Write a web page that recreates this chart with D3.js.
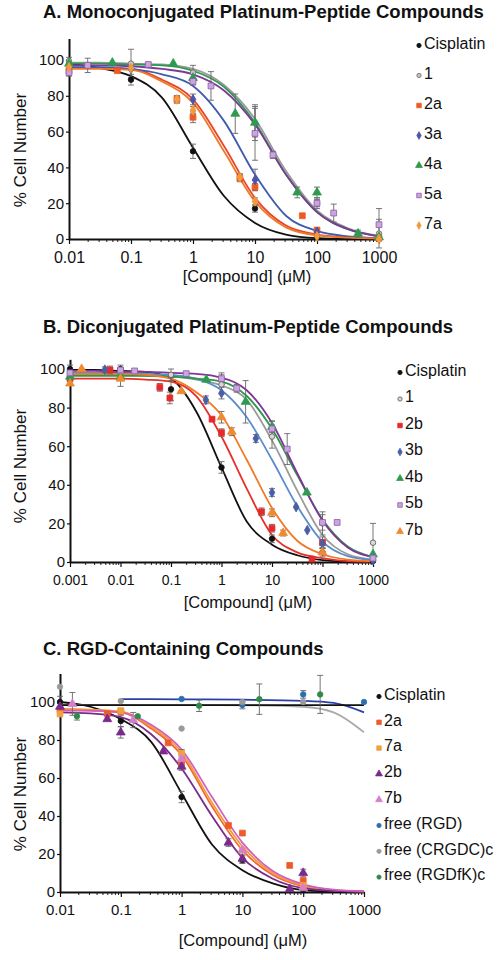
<!DOCTYPE html>
<html><head><meta charset="utf-8">
<script src="https://cdn.jsdelivr.net/npm/d3@7"></script>
<style>body{margin:0;background:#fff} text{font-family:Arial,"Liberation Sans",sans-serif;fill:#111}</style>
</head><body><svg id="c" width="501" height="960"></svg>
<script>
// ================= Panel A data =================
const majorsA = [0.01, 0.1, 1, 10, 100, 1000];
const tickLabelsA = ["0.01", "0.1", "1", "10", "100", "1000"];
const yTicks = [0, 20, 40, 60, 80, 100];
const concFitA = [0.01, 0.0316, 0.1, 0.316, 1, 3.16, 10, 31.6, 100, 316, 1000];
const fitA_cis = [98, 95.5, 91, 79, 51, 24, 9, 2.5, 0.5, 0.1, 0];
const fitA_1   = [98.5, 98.5, 98, 97.5, 95, 86, 67, 38, 16, 6, 1.8];
const fitA_2a  = [95.5, 95.5, 95, 89, 78, 52, 23, 7.5, 2.5, 1, 0.5];
const fitA_3a  = [96, 96, 95, 92, 85.5, 66, 36, 13, 4.5, 1.5, 0.5];
const fitA_4a  = [98, 98, 97.5, 97, 94, 85, 65, 36, 15, 5.5, 1.5];
const fitA_5a  = [97, 97, 96.5, 95, 92, 83, 64, 36, 15, 5.5, 1.5];
const fitA_7a  = [95, 95, 94.5, 88, 76, 49, 21, 6.5, 2, 0.8, 0.3];
const ptA_cis_x = [0.01, 0.1, 1, 10, 100, 1000], ptA_cis_y = [97, 89, 49, 17, 1, 0], ptA_cis_e = [2, 3, 4, 2, 1, 0.5];
const ptA_1_x = [0.01, 0.1, 1, 10, 100, 1000], ptA_1_y = [99.5, 98, 93, 65, 20, 3], ptA_1_e = [2, 8, 4, 10, 3, 8];
const ptA_2a_x = [0.01, 0.06, 0.55, 1, 5.7, 10, 58, 100, 1000], ptA_2a_y = [94, 94, 78, 68, 34, 29, 13, 5, 0.5], ptA_2a_e = [1.5, 1, 2, 3, 2, 2, 1, 1, 0.5];
const ptA_3a_x = [0.01, 0.1, 1, 10, 100, 1000], ptA_3a_y = [96, 95, 78, 33, 4, 0.5], ptA_3a_e = [1, 1, 3, 6, 1, 0.5];
const ptA_4a_x = [0.01, 0.05, 0.48, 1, 4.8, 10, 48, 100, 460, 1000], ptA_4a_y = [98, 98.5, 98, 90, 70, 65, 26, 26, 3, 1], ptA_4a_e = [1, 1, 1, 3, 11, 8, 3, 3, 2, 1];
const ptA_5a_x = [0.01, 0.02, 0.19, 1, 1.95, 10, 19.5, 100, 186, 1000], ptA_5a_y = [93, 97, 97.5, 88, 85.5, 59, 47, 20, 14.5, 8], ptA_5a_e = [2, 4, 1, 2, 8, 15, 2, 2, 5, 9];
const ptA_7a_x = [0.01, 0.1, 0.55, 1, 5.7, 10, 100, 1000], ptA_7a_y = [96, 95.5, 78, 72, 34.5, 21, 1.5, 0], ptA_7a_e = [1, 1, 2, 2, 2, 2, 0.5, 0.5];

// ================= Panel B data =================
const majorsB = [0.001, 0.01, 0.1, 1, 10, 100, 1000];
const tickLabelsB = ["0.001", "0.01", "0.1", "1", "10", "100", "1000"];
const concFitB = [0.001, 0.00316, 0.01, 0.0316, 0.1, 0.316, 1, 3.16, 10, 31.6, 100, 316, 1000];
const fitB_cis = [99.5, 99.5, 99, 98.5, 95, 78, 49, 21, 9, 3.5, 1, 0.3, 0];
const fitB_1   = [97, 97, 97, 96.5, 96, 94.5, 91.5, 84, 63, 37, 14, 4, 1.2];
const fitB_2b  = [95, 95, 95, 94.5, 93.5, 86, 65, 38, 14, 5, 2, 0.5, 0.2];
const fitB_3b  = [98, 98, 98, 97.5, 97, 95, 89, 75, 53, 29, 10.5, 3, 1];
const fitB_4b  = [96.5, 96.5, 96.5, 96.5, 96, 95, 93.5, 86, 69, 45, 22, 8, 2.5];
const fitB_5b  = [99, 99, 98.5, 98.5, 98, 97.5, 95.5, 89, 72, 46, 21.5, 7.5, 2.5];
const fitB_7b  = [97.5, 97.5, 97.5, 97, 95, 88, 76, 53, 28, 11, 4, 1.2, 0.4];
const ptB_cis_x = [0.001, 0.01, 0.1, 1, 10, 100, 1000], ptB_cis_y = [100, 100, 89.5, 49, 12, 5, 0.5], ptB_cis_e = [2, 2, 6, 3, 2, 2, 0.5];
const ptB_1_x = [0.001, 0.01, 0.1, 1, 10, 100, 1000], ptB_1_y = [97, 98, 97, 92, 65, 20, 10], ptB_1_e = [1, 2, 3, 5, 6, 6, 10];
const ptB_2b_x = [0.001, 0.0062, 0.06, 0.095, 0.65, 1, 6.2, 10, 62, 100], ptB_2b_y = [95, 99.5, 90.5, 85, 74, 67, 26, 17.5, 1.5, 10], ptB_2b_e = [1, 2, 2, 3, 1, 2, 2, 2, 1, 3];
const ptB_3b_x = [0.001, 0.0049, 0.49, 1, 4.8, 10, 30, 50, 100, 1000], ptB_3b_y = [95, 99.6, 84, 87.5, 64, 36, 28.5, 16.5, 9.5, 1], ptB_3b_e = [1, 1.5, 2, 3, 2, 2, 1, 1, 2, 0.5];
const ptB_4b_x = [0.001, 0.01, 0.5, 3, 10, 49, 1000], ptB_4b_y = [96, 96, 94.5, 83, 70, 36, 4], ptB_4b_e = [1, 1, 1, 11, 3, 1, 1];
const ptB_5b_x = [0.001, 0.01, 0.019, 0.2, 1, 2, 10, 20, 100, 195, 1000], ptB_5b_y = [98, 99.5, 99, 97.6, 95, 90, 69, 58.5, 20.5, 20.5, 2], ptB_5b_e = [1, 1, 1, 1, 3, 2, 4, 8, 4, 1, 1];
const ptB_7b_x = [0.001, 0.0017, 0.01, 0.16, 1, 1.6, 10, 16.6, 100], ptB_7b_y = [92.5, 100, 95, 88.5, 75, 67.5, 25.5, 15, 5], ptB_7b_e = [1, 1, 4, 1, 3, 2, 2, 1.5, 1];

// ================= Panel C data =================
const majorsC = [0.01, 0.1, 1, 10, 100, 1000];
const tickLabelsC = ["0.01", "0.1", "1", "10", "100", "1000"];
const concFitC = [0.01, 0.0316, 0.1, 0.316, 1, 3.16, 10, 31.6, 100, 316, 1000];
const fitC_cis = [100, 97.5, 91, 79, 52, 25, 11.5, 4.5, 1, 0.3, 0];
const fitC_2a  = [96, 95.5, 94.5, 86, 72, 45, 22, 9, 3, 0.8, 0.3];
const fitC_7a  = [96.5, 96, 95, 87, 73.5, 47, 24, 10, 3.5, 1, 0.3];
const fitC_2b  = [94.5, 94, 92, 83, 65, 40, 18, 7, 2, 0.6, 0.2];
const fitC_7b  = [95.5, 95.5, 94.5, 88, 75, 50, 26, 11, 4, 1.2, 0.4];
const concFitC_RGD = [0.1, 1, 10, 100, 316, 1000], fitC_RGD = [101.5, 101.4, 101.2, 100.6, 99.5, 94.5];
const concFitC_CRGDC = [0.01, 1, 10, 100, 316, 1000], fitC_CRGDC = [98.5, 98.5, 98.3, 97.5, 94.5, 84];
const concFitC_RGDfK = [0.01, 1000], fitC_RGDfK = [98.4, 98.4];
const ptC_cis_x = [0.01, 0.1, 1, 10, 100], ptC_cis_y = [100, 90, 50, 17, 1], ptC_cis_e = [3, 3, 3, 2, 0.5];
const ptC_2a_x = [0.01, 0.06, 0.1, 0.6, 1, 5.9, 10, 60, 100], ptC_2a_y = [96, 93.8, 95, 78.5, 68, 35, 31, 14, 6], ptC_2a_e = [1, 1, 1, 1, 2, 1, 1, 1, 1];
const ptC_7a_x = [0.01, 0.1, 1, 10, 100], ptC_7a_y = [93.7, 95.5, 73, 22, 3.5], ptC_7a_e = [1, 1, 2, 1, 1];
const ptC_2b_x = [0.01, 0.06, 0.1, 0.5, 1, 5.9, 10, 60, 100], ptC_2b_y = [97.5, 91, 84, 74, 66, 26, 17.5, 1.5, 10], ptC_2b_e = [2, 1, 3, 1, 2, 2, 2, 1, 2];
const ptC_7b_x = [0.016, 0.16, 1, 10, 100], ptC_7b_y = [99, 90.5, 70, 22, 2], ptC_7b_e = [6, 4, 2, 1, 1];
const ptC_RGD_x = [1, 10, 100, 1000], ptC_RGD_y = [101.6, 98.4, 104, 100], ptC_RGD_e = [0.5, 2, 2, 1];
const ptC_CRGDC_x = [0.01, 0.1, 1, 10, 100], ptC_CRGDC_y = [108, 100.5, 86, 100, 100], ptC_CRGDC_e = [1, 1, 0.5, 1, 1];
const ptC_RGDfK_x = [0.019, 0.19, 1.94, 19, 190], ptC_RGDfK_y = [92.5, 92.5, 98, 101.5, 104], ptC_RGDfK_e = [2, 1, 3, 8, 10];

// ================= drawing =================
const svg = d3.select("#c");
const SYM = {circle: d3.symbolCircle, square: d3.symbolSquare, diamond: d3.symbolDiamond, triangle: d3.symbolTriangle};
const SIZE = {circle: 24, square: 34, diamond: 28, triangle: 34};

function S(name, sym, fill, stroke, line, fx, fy, px, py, pe) {
  return {name, sym, fill, stroke, line, fx, fy, px, py, pe};
}

const seriesA = [
  S("Cisplatin", "circle", "#111", "#111", "#111", concFitA, fitA_cis, ptA_cis_x, ptA_cis_y, ptA_cis_e),
  S("1", "circle", "#c4c4c4", "#666", "#9a9a9a", concFitA, fitA_1, ptA_1_x, ptA_1_y, ptA_1_e),
  S("2a", "square", "#ee5a24", "#ee5a24", "#e8452a", concFitA, fitA_2a, ptA_2a_x, ptA_2a_y, ptA_2a_e),
  S("3a", "diamond", "#4b56a5", "#4b56a5", "#3f5bb0", concFitA, fitA_3a, ptA_3a_x, ptA_3a_y, ptA_3a_e),
  S("4a", "triangle", "#2e9a50", "#2e9a50", "#2a9a4a", concFitA, fitA_4a, ptA_4a_x, ptA_4a_y, ptA_4a_e),
  S("5a", "square", "#c9a6dd", "#8e5aa8", "#7b3a96", concFitA, fitA_5a, ptA_5a_x, ptA_5a_y, ptA_5a_e),
  S("7a", "diamond", "#f39a3c", "#f39a3c", "#f07828", concFitA, fitA_7a, ptA_7a_x, ptA_7a_y, ptA_7a_e)
];
const seriesB = [
  S("Cisplatin", "circle", "#111", "#111", "#111", concFitB, fitB_cis, ptB_cis_x, ptB_cis_y, ptB_cis_e),
  S("1", "circle", "#d8d8d8", "#555", "#9a9a9a", concFitB, fitB_1, ptB_1_x, ptB_1_y, ptB_1_e),
  S("2b", "square", "#e52a2a", "#e52a2a", "#e8302a", concFitB, fitB_2b, ptB_2b_x, ptB_2b_y, ptB_2b_e),
  S("3b", "diamond", "#4a5ea8", "#4a5ea8", "#5b8ccb", concFitB, fitB_3b, ptB_3b_x, ptB_3b_y, ptB_3b_e),
  S("4b", "triangle", "#2e9a50", "#2e9a50", "#2a9a4a", concFitB, fitB_4b, ptB_4b_x, ptB_4b_y, ptB_4b_e),
  S("5b", "square", "#c9a6dd", "#8e5aa8", "#80359a", concFitB, fitB_5b, ptB_5b_x, ptB_5b_y, ptB_5b_e),
  S("7b", "triangle", "#f08a30", "#f08a30", "#f07a28", concFitB, fitB_7b, ptB_7b_x, ptB_7b_y, ptB_7b_e)
];
const seriesC = [
  S("Cisplatin", "circle", "#111", "#111", "#111", concFitC, fitC_cis, ptC_cis_x, ptC_cis_y, ptC_cis_e),
  S("2a", "square", "#ef5a2c", "#ef5a2c", "#ee6a30", concFitC, fitC_2a, ptC_2a_x, ptC_2a_y, ptC_2a_e),
  S("7a", "square", "#f4a040", "#f4a040", "#f59a3a", concFitC, fitC_7a, ptC_7a_x, ptC_7a_y, ptC_7a_e),
  S("2b", "triangle", "#7a2a8c", "#7a2a8c", "#7a2a8c", concFitC, fitC_2b, ptC_2b_x, ptC_2b_y, ptC_2b_e),
  S("7b", "triangle", "#d77fcd", "#d77fcd", "#d060c0", concFitC, fitC_7b, ptC_7b_x, ptC_7b_y, ptC_7b_e),
  S("free (RGD)", "circle", "#2a70b0", "#2a70b0", "#2a3fa8", concFitC_RGD, fitC_RGD, ptC_RGD_x, ptC_RGD_y, ptC_RGD_e),
  S("free (CRGDC)c", "circle", "#9a9a9a", "#9a9a9a", "#aaaaaa", concFitC_CRGDC, fitC_CRGDC, ptC_CRGDC_x, ptC_CRGDC_y, ptC_CRGDC_e),
  S("free (RGDfK)c", "circle", "#2e8a48", "#2e8a48", "#111", concFitC_RGDfK, fitC_RGDfK, ptC_RGDfK_x, ptC_RGDfK_y, ptC_RGDfK_e)
];

function drawPanel(o) {
  const g = svg.append("g");
  const x = d3.scaleLog().domain([o.majors[0], o.majors[o.majors.length - 1]]).range([o.x0, o.x1]);
  const k = (o.y0 - o.y100) / 100;
  const y = d3.scaleLinear().domain([0, o.yMax]).range([o.y0, o.y0 - k * o.yMax]);

  svg.append("text").attr("x", 43).attr("y", o.titleY).attr("font-size", 18.5)
    .attr("font-weight", "bold").text(o.title);

  // minor ticks
  const minors = [];
  o.majors.slice(0, -1).forEach(m => { for (let i = 2; i <= 9; i++) minors.push(m * i); });
  g.append("g").attr("transform", `translate(0,${o.y0})`)
    .call(d3.axisBottom(x).tickValues(minors).tickSize(3).tickFormat(""))
    .call(a => a.select(".domain").remove())
    .call(a => a.selectAll("line").attr("stroke", "#222"));
  // major x axis
  g.append("g").attr("transform", `translate(0,${o.y0})`)
    .call(d3.axisBottom(x).tickValues(o.majors).tickSize(5).tickSizeOuter(0).tickPadding(o.xPad)
      .tickFormat(d => o.labels[o.majors.indexOf(d)]))
    .call(a => a.select(".domain").attr("stroke", "#111").attr("stroke-width", 2))
    .call(a => a.selectAll("line").attr("stroke", "#111").attr("stroke-width", 1.2))
    .call(a => a.selectAll("text").attr("font-size", o.xFont).attr("fill", "#222").style("font-family", "Arial, 'Liberation Sans', sans-serif"));
  // y axis
  g.append("g").attr("transform", `translate(${o.x0},0)`)
    .call(d3.axisLeft(y).tickValues(yTicks).tickSize(3).tickSizeOuter(0).tickPadding(2))
    .call(a => a.select(".domain").attr("stroke", "#111").attr("stroke-width", 2))
    .call(a => a.selectAll("line").attr("stroke", "#111").attr("stroke-width", 1.2))
    .call(a => a.selectAll("text").attr("font-size", 15).attr("fill", "#222").style("font-family", "Arial, 'Liberation Sans', sans-serif"));

  // axis titles
  svg.append("text").attr("x", o.xLabX).attr("y", o.xLabY).attr("text-anchor", "middle")
    .attr("font-size", 16.5).attr("fill", "#222").text("[Compound] (\u03bcM)");
  svg.append("text").attr("transform", `translate(26,${o.yLabY}) rotate(-90)`).attr("text-anchor", "middle")
    .attr("font-size", 17).attr("fill", "#222").text("% Cell Number");

  // fits
  const line = d3.line().x(d => x(d[0])).y(d => y(d[1])).curve(d3.curveMonotoneX);
  o.series.forEach(s => {
    g.append("path").attr("d", line(d3.zip(s.fx, s.fy))).attr("fill", "none")
      .attr("stroke", s.line).attr("stroke-width", 1.8);
  });
  // error bars
  o.series.forEach(s => {
    s.px.forEach((c, i) => {
      const e = s.pe[i];
      if (e < 1.5) return;
      const cx = x(c), ya = y(s.py[i] - e), yb = y(s.py[i] + e);
      const eb = g.append("g").attr("stroke", "#666").attr("stroke-width", 0.9);
      eb.append("line").attr("x1", cx).attr("x2", cx).attr("y1", ya).attr("y2", yb);
      eb.append("line").attr("x1", cx - 3).attr("x2", cx + 3).attr("y1", ya).attr("y2", ya);
      eb.append("line").attr("x1", cx - 3).attr("x2", cx + 3).attr("y1", yb).attr("y2", yb);
    });
  });
  // points
  o.series.forEach(s => {
    const sym = d3.symbol().type(SYM[s.sym]).size(SIZE[s.sym]);
    s.px.forEach((c, i) => {
      g.append("path").attr("d", sym()).attr("transform", `translate(${x(c)},${y(s.py[i])})`)
        .attr("fill", s.fill).attr("stroke", s.stroke).attr("stroke-width", 0.8);
    });
  });
  // legend
  o.series.forEach((s, i) => {
    const cy = o.legY + i * o.legDy;
    const sym = d3.symbol().type(SYM[s.sym]).size(SIZE[s.sym] * 0.6);
    svg.append("path").attr("d", sym()).attr("transform", `translate(${o.legX},${cy + 2.5})`)
      .attr("fill", s.fill).attr("stroke", s.stroke).attr("stroke-width", 0.8);
    svg.append("text").attr("x", o.legX + 5).attr("y", cy + 5.7).attr("font-size", 16)
      .attr("fill", "#222").text(s.name);
  });
}

drawPanel({title: "A. Monoconjugated Platinum-Peptide Compounds", titleY: 18,
  majors: majorsA, labels: tickLabelsA, x0: 69, x1: 379, y0: 239, y100: 60, yMax: 112,
  xFont: 16, xPad: 7.4, xLabX: 247, xLabY: 282, yLabY: 150,
  series: seriesA, legX: 419, legY: 43, legDy: 30});
drawPanel({title: "B. Diconjugated Platinum-Peptide Compounds", titleY: 333,
  majors: majorsB, labels: tickLabelsB, x0: 70, x1: 373, y0: 562, y100: 369, yMax: 105,
  xFont: 14, xPad: 8, xLabX: 248, xLabY: 608, yLabY: 466,
  series: seriesB, legX: 400, legY: 370, legDy: 26.5});
drawPanel({title: "C. RGD-Containing Compounds", titleY: 655,
  majors: majorsC, labels: tickLabelsC, x0: 60, x1: 364, y0: 892, y100: 702, yMax: 115,
  xFont: 15, xPad: 7.7, xLabX: 243, xLabY: 946, yLabY: 794,
  series: seriesC, legX: 379, legY: 694, legDy: 25.8});
</script>
</body></html>
